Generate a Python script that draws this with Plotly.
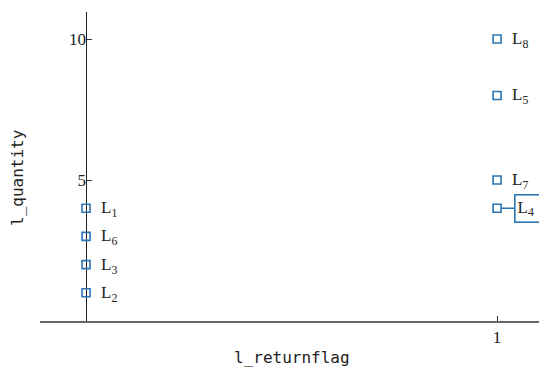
import plotly.graph_objects as go

x_vals = [0, 0, 0, 0, 1, 1, 1, 1]
y_vals = [4, 3, 2, 1, 10, 8, 5, 4]
labels = ["L<sub>1</sub>", "L<sub>6</sub>", "L<sub>3</sub>", "L<sub>2</sub>",
          "L<sub>8</sub>", "L<sub>5</sub>", "L<sub>7</sub>", "L<sub>4</sub>"]
highlight = "L<sub>4</sub>"
x_ticks = [1]
y_ticks = [5, 10]

color = "#2b75b5"
serif = "Liberation Serif, DejaVu Serif, serif"
mono = "DejaVu Sans Mono, monospace"
txt = "#222222"

fig = go.Figure()
fig.add_trace(go.Scatter(
    x=x_vals, y=y_vals, mode="markers",
    marker=dict(symbol="square-open", size=8, color=color, line=dict(width=1.6, color=color)),
    hoverinfo="skip", showlegend=False, cliponaxis=False,
))

for x, y, l in zip(x_vals, y_vals, labels):
    if l == highlight:
        fig.add_annotation(
            x=x, y=y, xref="x", yref="y", text=l + "&nbsp;&nbsp;&nbsp;", showarrow=True,
            arrowhead=0, arrowwidth=1.6, arrowcolor=color,
            ax=17, ay=0, xanchor="left", yanchor="middle", align="left",
            bordercolor=color, borderwidth=1.6, borderpad=2, bgcolor="white",
            font=dict(family=serif, size=17, color=txt),
            standoff=4,
        )
    else:
        fig.add_annotation(
            x=x, y=y, xref="x", yref="y", text=l, showarrow=False,
            xanchor="left", yanchor="middle", xshift=13, yshift=-1,
            font=dict(family=serif, size=17, color=txt),
        )

fig.add_annotation(text="l_quantity", xref="paper", yref="paper",
                   x=(18 - 40) / 499, y=1 - (178 - 12) / 309,
                   showarrow=False, textangle=-90, xanchor="center", yanchor="middle",
                   font=dict(family=mono, size=16, color=txt))
fig.add_annotation(text="l_returnflag", xref="paper", yref="paper",
                   x=(292 - 40) / 499, y=-(357 - 321) / 309,
                   showarrow=False, xanchor="center", yanchor="middle",
                   font=dict(family=mono, size=16, color=txt))

fig.update_layout(
    width=539, height=372,
    margin=dict(l=40, r=0, t=12, b=51),
    plot_bgcolor="white", paper_bgcolor="white",
    xaxis=dict(range=[-0.112, 1.102], tickvals=x_ticks, ticks="inside", ticklen=5,
               tickcolor="#333333", showgrid=False, zeroline=True, zerolinecolor="#222222",
               zerolinewidth=1.3, showline=True, linecolor="#666666", linewidth=1.6,
               tickfont=dict(family=serif, size=17, color=txt)),
    yaxis=dict(range=[0, 10.96], tickvals=y_ticks, ticks="inside", ticklen=5,
               tickcolor="#333333", showgrid=False, zeroline=False, showline=False,
               anchor="free", position=(86 - 40) / 499,
               tickfont=dict(family=serif, size=17, color=txt)),
)

fig.write_html("out.html", config={"displayModeBar": False},
               post_script="document.body.style.margin='0';")
